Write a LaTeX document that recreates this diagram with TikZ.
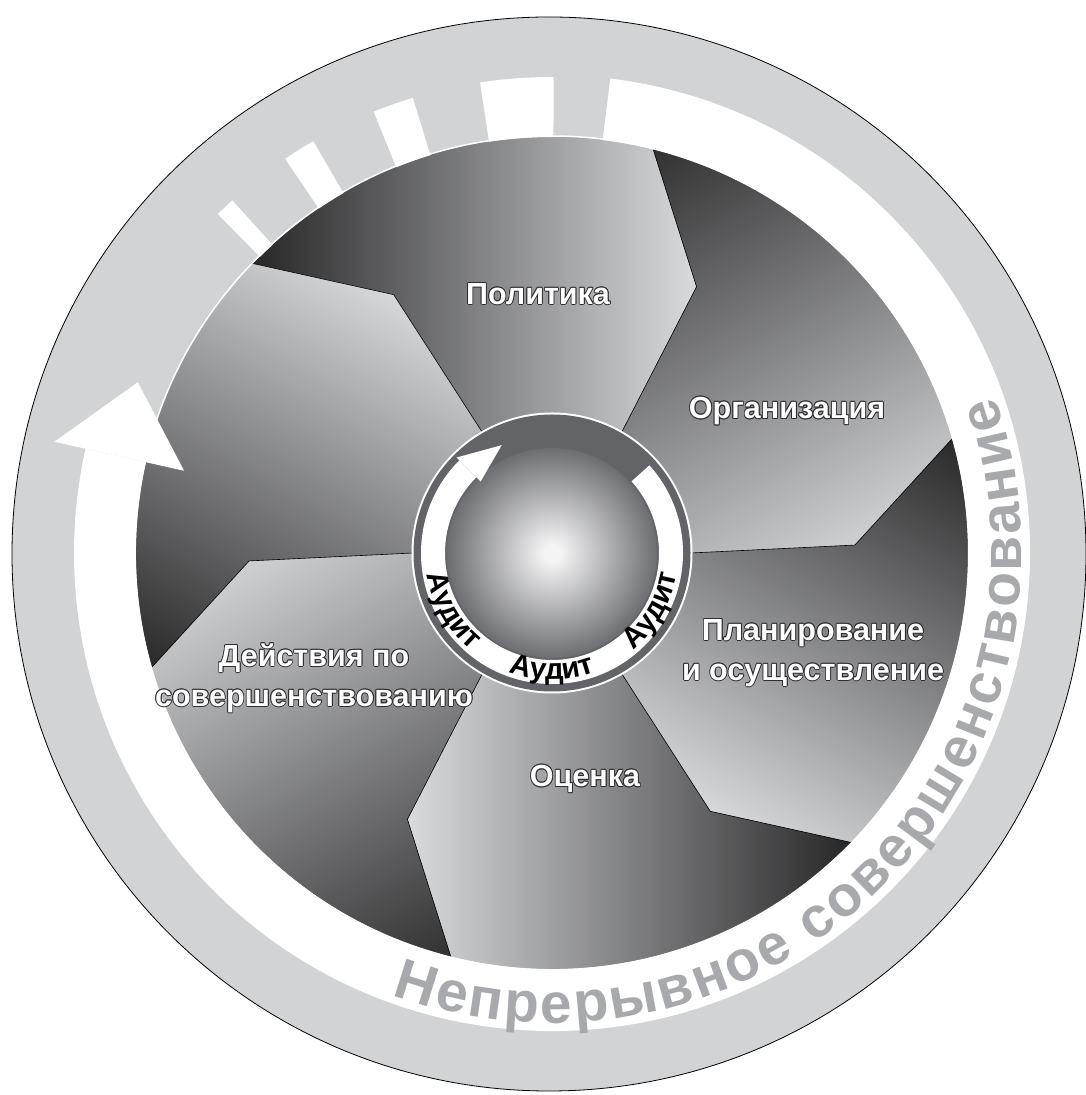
\documentclass[tikz,border=0pt]{standalone}
\usepackage{fontspec}
\setmainfont{Liberation Sans}
\usetikzlibrary{decorations.text}
\definecolor{ringgray}{HTML}{D1D3D4}
\definecolor{bigtxt}{HTML}{A7A9AC}
\definecolor{bdark}{HTML}{232324}
\definecolor{blight}{HTML}{DDDEE0}
\definecolor{ringdark}{HTML}{636467}
\definecolor{ballout}{HTML}{6D6E71}
\definecolor{ballin}{HTML}{F4F4F5}
\definecolor{olc}{HTML}{2E2E30}
\pgfdeclareradialshading{ballsh}{\pgfpoint{0bp}{0bp}}{color(0bp)=(ballin); color(2bp)=(ballin); color(25bp)=(ballout); color(50bp)=(ballout)}
\newcommand\olt[1]{{\def\oc##1##2{\rlap{\hspace{##1}\raisebox{##2}{\color{olc}#1}}}%
\oc{0.9pt}{0pt}\oc{-0.9pt}{0pt}\oc{0pt}{0.9pt}\oc{0pt}{-0.9pt}%
\oc{0.64pt}{0.64pt}\oc{-0.64pt}{0.64pt}\oc{0.64pt}{-0.64pt}\oc{-0.64pt}{-0.64pt}%
{\color{white}#1}}}
\tikzset{
  lbl/.style={font=\fontsize{30.5}{40}\selectfont\bfseries, align=center, inner sep=0pt},
  bline/.style={draw=black, line width=0.6pt, line join=miter},
  whitefill/.style={fill=white},
}
\newcommand\bladepath{(60:139pt) -- (61.5:303pt) -- (76:417pt)
      arc[start angle=76, end angle=136, radius=417pt]
      -- (121.5:303pt) -- (120:139pt)
      arc[start angle=120, end angle=60, radius=139pt] -- cycle}
\begin{document}
\begin{tikzpicture}[x=1pt,y=1pt]
\useasboundingbox (0,0) rectangle (1086,1095);
\coordinate (C) at (552,542);
\coordinate (C0) at (549,541);
% outer disc
\fill[ringgray] (C0) circle (537pt);
\draw[black, line width=0.8pt] (C0) circle (537pt);
% blades
\foreach \k in {0,...,5}{
  \begin{scope}[shift={(552,542)}, rotate=-60*\k]
    \begin{scope}
      \clip \bladepath;
      \pgfmathsetmacro\sang{90-60*\k}
      \shade[left color=bdark, right color=blight, shading angle=\sang] (-77.5,270) circle (231pt);
    \end{scope}
  \end{scope}
}
\foreach \k in {0,...,5}{
  \begin{scope}[shift={(552,542)}, rotate=-60*\k]
    \draw[bline] (60:139pt) -- (61.5:303pt) -- (76:417pt);
  \end{scope}
}
\draw[white, line width=1.5pt] (C) circle (417pt);
% white band, dashes, arrow head
\begin{scope}[shift={(552,542)}]
  \fill[whitefill] (83:478pt) arc[start angle=83, end angle=-192.6, radius=478pt]
     -- (-192.6:416pt) arc[start angle=-192.6, end angle=83, radius=416pt] -- cycle;
  \fill[whitefill] (167.4:510pt) -- (157.6:448pt) -- (167.4:377pt) -- cycle;
  \foreach \a/\b in {89.8/98.7, 107/112, 120.1/124.1, 132.2/134.6}{
    \fill[whitefill] (\a:416pt) -- (\a:476pt) arc[start angle=\a, end angle=\b, radius=476pt]
       -- (\b:416pt) arc[start angle=\b, end angle=\a, radius=416pt] -- cycle;
  }
  \path[decorate, decoration={text along path, text align=fit to path, text color=bigtxt,
     text={|\fontsize{57}{57}\selectfont\bfseries|Непрерывное совершенствование}}]
     (-110:470pt) arc[start angle=-110, end angle=19.5, radius=470pt];
\end{scope}
% centre
\fill[white] (C) circle (140.5pt);
\fill[ringdark] (C) circle (138.5pt);
\shade[shading=ballsh] (C) circle (105pt);
\begin{scope}[shift={(552,542)}]
  \fill[whitefill] (42:131pt) arc[start angle=42, end angle=-225, radius=131pt]
     -- (-225:107pt) arc[start angle=-225, end angle=42, radius=107pt] -- cycle;
  \fill[whitefill] (135:135pt) -- (115:119pt) -- (135:101pt) -- cycle;
  \foreach \t in {-150,-90,-30}{
    \path[decorate, decoration={text along path, text align=center,
       text={|\fontsize{29.5}{29.5}\selectfont\bfseries|Аудит}}]
       (\t-28:126.5pt) arc[start angle=\t-28, end angle=\t+28, radius=126.5pt];
  }
\end{scope}
% labels
\node[lbl] (pol) at (538,801) {\olt{Политика}};
\node[lbl] (org) at (787,684) {\olt{Организация}};
\node[lbl] (plan) at (813,442) {\olt{Планирование}\\\olt{и осуществление}};
\node[lbl] (dej) at (314,417) {\olt{Действия по}\\\olt{совершенствованию}};
\node[lbl] (ocen) at (585,316) {\olt{Оценка}};
\end{tikzpicture}
\end{document}
